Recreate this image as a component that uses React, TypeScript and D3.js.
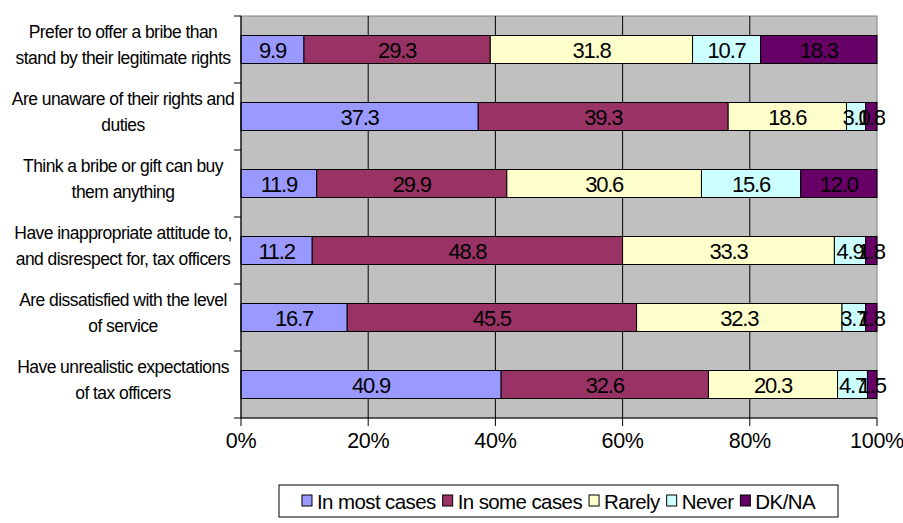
import React, { useEffect, useRef } from "react";
import * as d3 from "d3";

const categories: string[][] = [
  ["Prefer to offer a bribe than", "stand by their legitimate rights"],
  ["Are unaware of their rights and", "duties"],
  ["Think a bribe or gift can buy", "them anything"],
  ["Have inappropriate attitude to,", "and disrespect for, tax officers"],
  ["Are dissatisfied with the level", "of service"],
  ["Have unrealistic expectations", "of tax officers"],
];

const seriesNames = ["In most cases", "In some cases", "Rarely", "Never", "DK/NA"];
const seriesColors = ["#9999FF", "#993366", "#FFFFCC", "#CCFFFF", "#660066"];

const inMostCases = [9.9, 37.3, 11.9, 11.2, 16.7, 40.9];
const inSomeCases = [29.3, 39.3, 29.9, 48.8, 45.5, 32.6];
const rarely = [31.8, 18.6, 30.6, 33.3, 32.3, 20.3];
const never = [10.7, 3.0, 15.6, 4.9, 3.7, 4.7];
const dkna = [18.3, 1.8, 12.0, 1.8, 1.8, 1.5];

const xTicks = [0, 20, 40, 60, 80, 100];

const W = 903;
const H = 523;
const FONT = "'Liberation Sans', Arial, sans-serif";

export default function App() {
  const ref = useRef<SVGSVGElement | null>(null);

  useEffect(() => {
    const svg = d3.select(ref.current);
    svg.selectAll("*").remove();

    const left = 241, right = 877, top = 16, bottom = 418;
    const series = [inMostCases, inSomeCases, rarely, never, dkna];
    const ids = categories.map((_, i) => String(i));

    const x = d3.scaleLinear().domain([0, 100]).range([left, right]);
    const y = d3.scaleBand<string>().domain(ids).range([top, bottom])
      .paddingInner(0.582).paddingOuter(0.291);

    svg.append("rect").attr("x", left).attr("y", top)
      .attr("width", right - left).attr("height", bottom - top)
      .attr("fill", "#C0C0C0").attr("stroke", "#808080").attr("stroke-width", 1);

    xTicks.filter(t => t > 0 && t < 100).forEach(t => {
      svg.append("line").attr("x1", x(t)).attr("x2", x(t))
        .attr("y1", top).attr("y2", bottom)
        .attr("stroke", "#000").attr("stroke-width", 1);
    });

    const rows = ids.map((_, i) => {
      const vals = series.map(s => s[i]);
      const total = d3.sum(vals);
      let acc = 0;
      return vals.map((v, k) => {
        const x0 = acc / total * 100;
        acc += v;
        const x1 = acc / total * 100;
        return { k, v, x0, x1 };
      });
    });

    rows.forEach((segs, i) => {
      const g = svg.append("g");
      segs.forEach(s => {
        g.append("rect")
          .attr("x", x(s.x0)).attr("y", y(ids[i])!)
          .attr("width", x(s.x1) - x(s.x0)).attr("height", y.bandwidth())
          .attr("fill", seriesColors[s.k]).attr("stroke", "#000").attr("stroke-width", 1);
      });
      segs.forEach(s => {
        g.append("text")
          .attr("x", (x(s.x0) + x(s.x1)) / 2)
          .attr("y", y(ids[i])! + y.bandwidth() / 2 + 8)
          .attr("text-anchor", "middle")
          .attr("font-family", FONT).attr("font-size", 22)
          .attr("letter-spacing", -1.2)
          .attr("fill", "#000")
          .text(s.v.toFixed(1));
      });
    });

    svg.append("line").attr("x1", left).attr("x2", left)
      .attr("y1", top).attr("y2", bottom).attr("stroke", "#000").attr("stroke-width", 1.2);
    const bounds = ids.map(id => y(id)! - y.step() * y.paddingInner() / 2);
    bounds.push(bottom);
    bounds.forEach(b => {
      svg.append("line").attr("x1", left - 7).attr("x2", left)
        .attr("y1", b).attr("y2", b).attr("stroke", "#000").attr("stroke-width", 1);
    });

    categories.forEach((lines, i) => {
      const cy = y(ids[i])! + y.bandwidth() / 2;
      const t = svg.append("text")
        .attr("text-anchor", "middle")
        .attr("font-family", FONT).attr("font-size", 17.5)
        .attr("letter-spacing", -0.55).attr("fill", "#000");
      lines.forEach((ln, j) => {
        t.append("tspan").attr("x", 123).attr("y", cy - 12 + j * 26).text(ln);
      });
    });

    svg.append("line").attr("x1", left).attr("x2", right)
      .attr("y1", bottom).attr("y2", bottom).attr("stroke", "#000").attr("stroke-width", 1.2);
    xTicks.forEach(t => {
      svg.append("line").attr("x1", x(t)).attr("x2", x(t))
        .attr("y1", bottom).attr("y2", bottom + 8).attr("stroke", "#000").attr("stroke-width", 1);
      svg.append("text").attr("x", x(t)).attr("y", 448)
        .attr("text-anchor", "middle")
        .attr("font-family", FONT).attr("font-size", 21.5)
        .attr("letter-spacing", -0.3)
        .attr("fill", "#000").text(`${t}%`);
    });

    const lg = svg.append("g");
    const box = lg.append("rect").attr("fill", "#fff").attr("stroke", "#000").attr("stroke-width", 1);
    let cx = 0;
    const items = lg.append("g");
    seriesNames.forEach((name, k) => {
      items.append("rect").attr("x", cx).attr("y", -14).attr("width", 10).attr("height", 11)
        .attr("fill", seriesColors[k]).attr("stroke", "#000").attr("stroke-width", 1);
      const tx = items.append("text").attr("x", cx + 15).attr("y", 0)
        .attr("font-family", FONT).attr("font-size", 20.5).attr("letter-spacing", -0.6)
        .attr("fill", "#000").text(name);
      const w = (tx.node() as SVGTextElement).getComputedTextLength();
      cx += 15 + w + 7;
    });
    const totalW = cx - 7;
    const boxW = 559;
    const bx = 279;
    items.attr("transform", `translate(${bx + (boxW - totalW) / 2},${509})`);
    box.attr("x", bx).attr("y", 485).attr("width", boxW).attr("height", 32);
  }, []);

  return (
    <svg ref={ref} width={W} height={H}
      style={{ position: "absolute", left: 0, top: 0, background: "#fff" }} />
  );
}
